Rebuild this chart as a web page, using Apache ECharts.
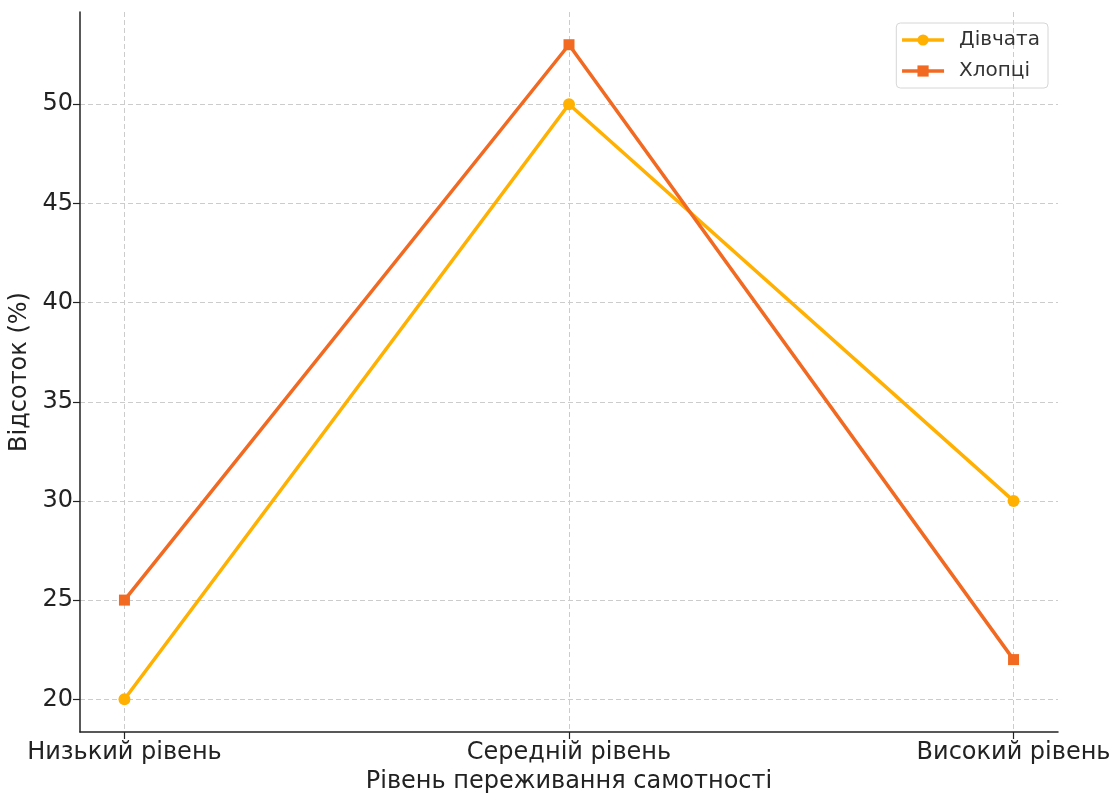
<!DOCTYPE html>
<html><head><meta charset="utf-8">
<script src="https://cdn.jsdelivr.net/npm/echarts@6/dist/echarts.min.js"></script>
<style>html,body{margin:0;padding:0;background:#fff}#c{width:1110px;height:794px}</style>
</head><body><div id="c"></div>
<script>
const categories = ['Низький рівень', 'Середній рівень', 'Високий рівень'];
const girls = [20, 50, 30];
const boys = [25, 53, 22];
const yTicks = [20, 25, 30, 35, 40, 45, 50];
const xTicks = [0, 1, 2];

const font = 'DejaVu Sans';
const chart = echarts.init(document.getElementById('c'));
chart.setOption({
  animation: false,
  textStyle: { fontFamily: font },
  grid: { left: 80, right: 52, top: 12, bottom: 62, containLabel: false, outerBoundsMode: 'none' },
  legend: {
    right: 62, top: 23, orient: 'vertical',
    itemWidth: 42, itemHeight: 14, itemGap: 11,
    padding: [7, 8, 7, 4],
    borderColor: '#d6d6d6', borderWidth: 1, borderRadius: 4,
    lineStyle: { width: 3.5 },
    textStyle: { fontFamily: font, fontSize: 20, color: '#333', padding: [0, 0, 0, 10] },
    data: ['Дівчата', 'Хлопці']
  },
  xAxis: {
    type: 'value', min: -0.1, max: 2.1,
    name: 'Рівень переживання самотності', nameLocation: 'middle', nameGap: 37,
    nameTextStyle: { fontFamily: font, fontSize: 24, color: '#222' },
    axisLine: { show: true, onZero: false, lineStyle: { color: '#222', width: 1.5 } },
    axisTick: { show: true, length: 7, lineStyle: { color: '#222', width: 1.2 }, customValues: xTicks },
    axisLabel: { margin: 9, fontFamily: font, fontSize: 24, color: '#222', customValues: xTicks,
      formatter: v => categories[Math.round(v)] },
    splitLine: { show: true, lineStyle: { color: '#cccccc', type: [5, 3], width: 1 } }
  },
  yAxis: {
    type: 'value', min: 18.35, max: 54.65,
    name: 'Відсоток (%)', nameLocation: 'middle', nameGap: 40,
    nameTextStyle: { fontFamily: font, fontSize: 24, color: '#222' },
    axisLine: { show: true, onZero: false, lineStyle: { color: '#222', width: 1.5 } },
    axisTick: { show: true, length: 7, lineStyle: { color: '#222', width: 1.2 }, customValues: yTicks },
    axisLabel: { margin: 7, fontFamily: font, fontSize: 24, color: '#222', customValues: yTicks },
    splitLine: { show: true, lineStyle: { color: '#cccccc', type: [5, 3], width: 1 } }
  },
  series: [
    { name: 'Дівчата', type: 'line', data: girls.map((v, i) => [i, v]),
      symbol: 'circle', symbolSize: 12, color: '#FFB000',
      lineStyle: { width: 3.5, color: '#FFB000' }, itemStyle: { color: '#FFB000' }, z: 2 },
    { name: 'Хлопці', type: 'line', data: boys.map((v, i) => [i, v]),
      symbol: 'rect', symbolSize: 11, color: '#F26A21',
      lineStyle: { width: 3.5, color: '#F26A21' }, itemStyle: { color: '#F26A21' }, z: 3 }
  ]
});
</script></body></html>
